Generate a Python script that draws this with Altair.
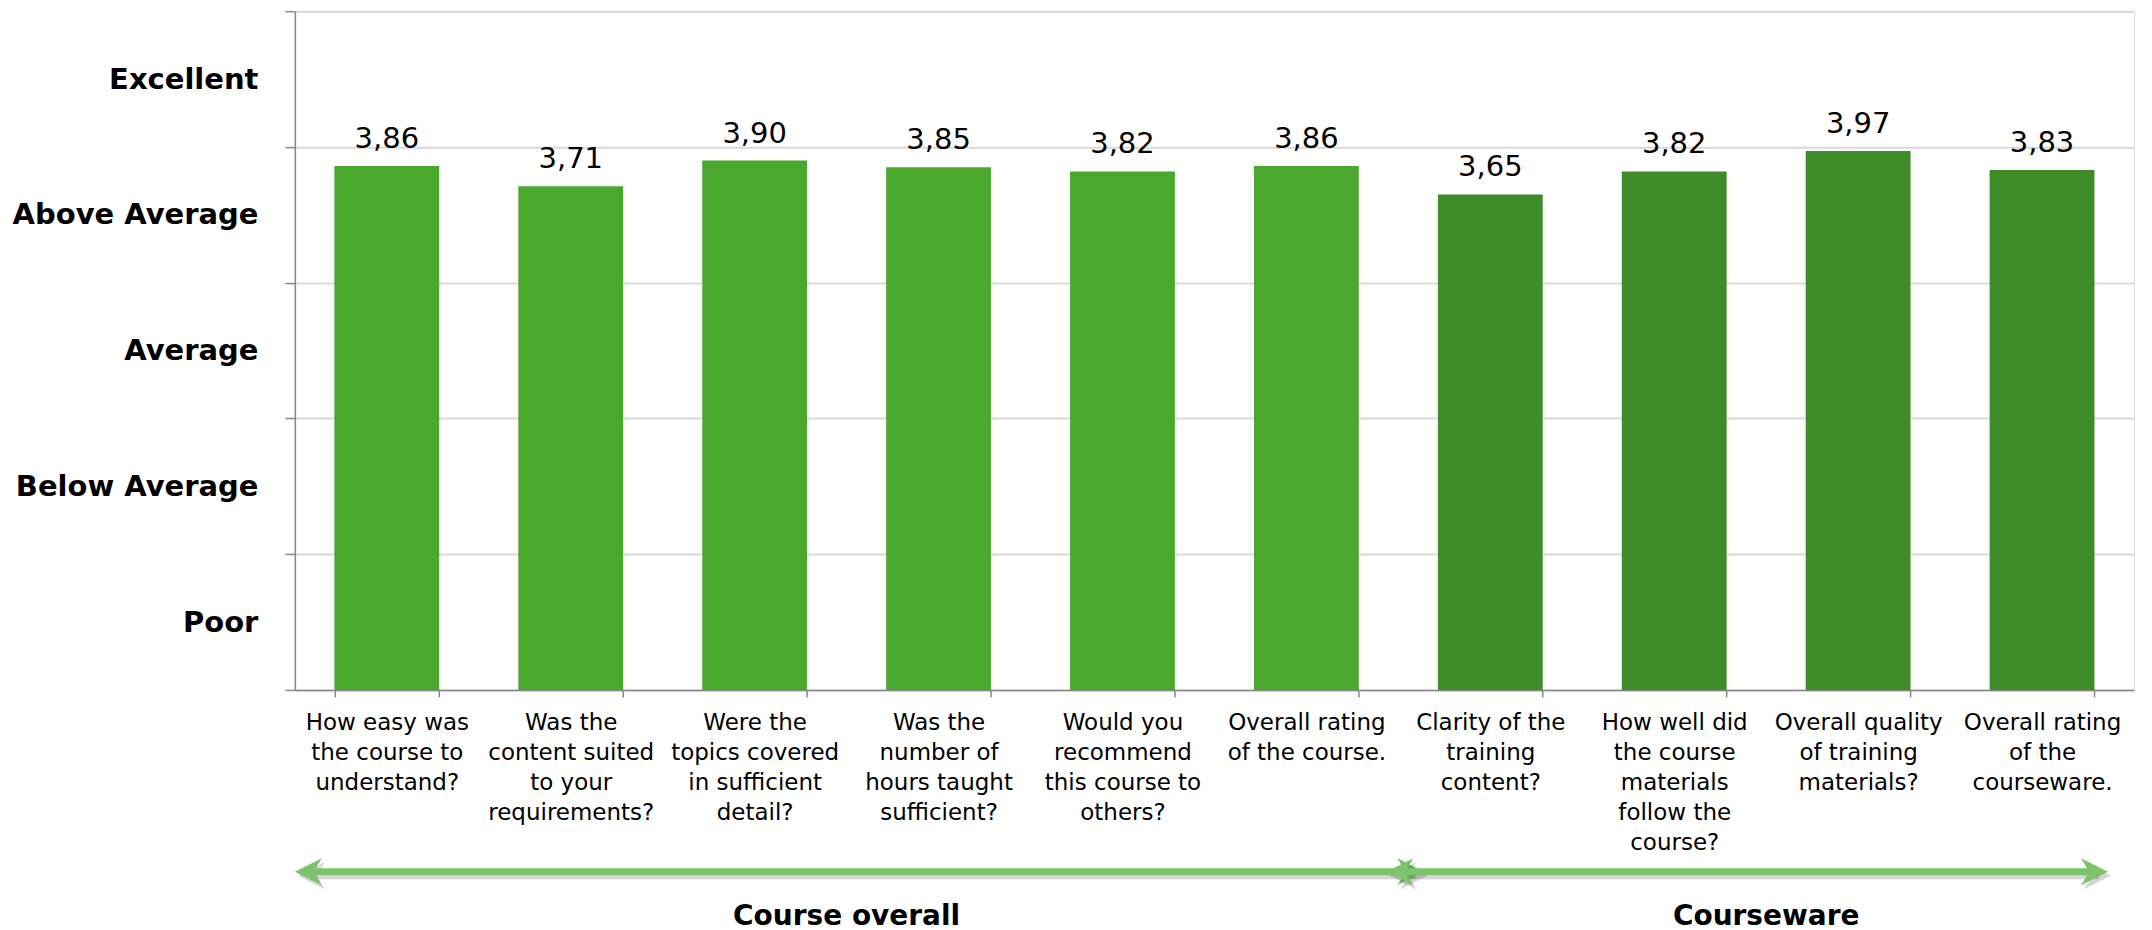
import altair as alt
import pandas as pd

# ---------------- data ----------------
questions = [
    "How easy was\nthe course to\nunderstand?",
    "Was the\ncontent suited\nto your\nrequirements?",
    "Were the\ntopics covered\nin sufficient\ndetail?",
    "Was the\nnumber of\nhours taught\nsufficient?",
    "Would you\nrecommend\nthis course to\nothers?",
    "Overall rating\nof the course.",
    "Clarity of the\ntraining\ncontent?",
    "How well did\nthe course\nmaterials\nfollow the\ncourse?",
    "Overall quality\nof training\nmaterials?",
    "Overall rating\nof the\ncourseware.",
]
scores = [3.86, 3.71, 3.90, 3.85, 3.82, 3.86, 3.65, 3.82, 3.97, 3.83]
groups = ["Course overall", "Course overall", "Course overall", "Course overall",
          "Course overall", "Course overall", "Courseware", "Courseware",
          "Courseware", "Courseware"]
group_names = ["Course overall", "Courseware"]
levels = ["Poor", "Below Average", "Average", "Above Average", "Excellent"]

# ---------------- style ----------------
FONT = "DejaVu Sans"
LIGHT = "#4BA82F"
DARK = "#3F8D29"
ARROW = "#7CC36C"
AXIS_GRAY = "#888888"
GRID_GRAY = "#D9D9D9"
W, H = 1840, 679
STEP = W / len(questions)
HALF = STEP / 2
ARROW_Y = 861
LABEL_Y = 914
# per-group arrow tip offsets (px) relative to the group's band edges
tip_offsets = {"Course overall": (0, 26), "Courseware": (-12, -26)}
HEAD_LEFT = "M0,0L2,-1L1.4,0L2,1Z"
HEAD_RIGHT = "M0,0L-2,-1L-1.4,0L-2,1Z"

df = pd.DataFrame({"question": questions, "score": scores, "group": groups})

x_scale = alt.Scale(domain=questions, paddingInner=0.43, paddingOuter=0.215)

level_expr = "''"
for i in range(len(levels) - 1, -1, -1):
    level_expr = f"datum.value == {i + 0.5} ? '{levels[i]}' : " + level_expr

y_values = [i * 0.5 for i in range(2 * len(levels) + 1)]
is_int = "datum.value % 1 == 0"

x_axis = alt.Axis(
    title=None,
    labelExpr="split(datum.label, '\\n')",
    labelAngle=0,
    labelFont=FONT,
    labelFontSize=23,
    labelColor="#000000",
    labelLineHeight=30,
    labelPadding=15,
    labelBaseline="top",
    labelOverlap=False,
    labelLimit=0,
    tickBand="extent",
    tickSize=7,
    tickColor=AXIS_GRAY,
    tickWidth=1.5,
    domainColor=AXIS_GRAY,
    domainWidth=1.5,
    grid=False,
)
x_enc = alt.X("question:N", scale=x_scale, axis=x_axis)
y_enc = alt.Y(
    "score:Q",
    scale=alt.Scale(domain=[0, 5], nice=False),
    axis=alt.Axis(
        title=None,
        values=y_values,
        labelExpr=level_expr,
        labelFont=FONT,
        labelFontWeight="bold",
        labelFontSize=29,
        labelColor="#000000",
        labelPadding=27,
        labelOverlap=False,
        labelLimit=0,
        tickSize=10,
        tickColor=AXIS_GRAY,
        tickWidth=1.5,
        tickOpacity={"condition": {"test": is_int, "value": 1}, "value": 0},
        grid=True,
        gridColor=GRID_GRAY,
        gridWidth=2,
        gridOpacity={"condition": {"test": is_int, "value": 1}, "value": 0},
        domainColor=AXIS_GRAY,
        domainWidth=1.5,
    ),
)

base = alt.Chart(df).encode(x=x_enc, y=y_enc)

bars = base.mark_bar().encode(
    color=alt.Color("group:N", scale=alt.Scale(domain=group_names, range=[LIGHT, DARK]), legend=None)
)
values_text = base.mark_text(font=FONT, fontSize=29, baseline="alphabetic", dy=-18, color="#000000").encode(
    text="label:N"
).transform_calculate(label="replace(format(datum.score, '.2f'), '.', ',')")

layers = [bars, values_text]

for g in group_names:
    qs = [q for q, gg in zip(questions, groups) if gg == g]
    first, last = qs[0], qs[-1]
    loff, roff = tip_offsets[g]
    seg = pd.DataFrame({"start": [first], "end": [last]})
    for dx, dy, col, op in [(3, 4, "#000000", 0.16), (0, 0, ARROW, 1)]:
        shaft = alt.Chart(seg).mark_rule(
            strokeWidth=7, color=col, opacity=op,
            xOffset=-HALF + loff + 12 + dx, x2Offset=HALF + roff - 12 + dx,
        ).encode(
            x=alt.X("start:N", scale=x_scale, axis=x_axis),
            x2=alt.X2("end"),
            y=alt.value(ARROW_Y + dy),
        )
        lhead = alt.Chart(pd.DataFrame({"pos": [first]})).mark_point(
            shape=HEAD_LEFT, size=729, filled=True, strokeWidth=0, color=col, opacity=op,
            xOffset=-HALF + loff + dx,
        ).encode(x=alt.X("pos:N", scale=x_scale, axis=x_axis), y=alt.value(ARROW_Y + dy))
        rhead = alt.Chart(pd.DataFrame({"pos": [last]})).mark_point(
            shape=HEAD_RIGHT, size=729, filled=True, strokeWidth=0, color=col, opacity=op,
            xOffset=HALF + roff + dx,
        ).encode(x=alt.X("pos:N", scale=x_scale, axis=x_axis), y=alt.value(ARROW_Y + dy))
        layers += [shaft, lhead, rhead]

# group captions centred under each group's span
cap_rows = []
for g in group_names:
    idx = [i for i, gg in enumerate(groups) if gg == g]
    mid = idx[0] + len(idx) // 2
    cap_rows.append({"pos": questions[mid], "caption": g})
captions = alt.Chart(pd.DataFrame(cap_rows)).mark_text(
    font=FONT, fontSize=28, fontWeight="bold", baseline="alphabetic", align="center",
    color="#000000", xOffset=-HALF,
).encode(
    x=alt.X("pos:N", scale=x_scale, axis=x_axis),
    y=alt.value(LABEL_Y),
    text="caption:N",
)
layers.append(captions)

chart = alt.layer(*layers).properties(
    width=W, height=H,
    autosize=alt.AutoSizeParams(type="none"),
    padding={"left": 287, "top": 3, "right": 10, "bottom": 245},
).configure_view(stroke=None).configure(background="white")

chart.save("out.html", embed_options={"renderer": "svg", "actions": False})
